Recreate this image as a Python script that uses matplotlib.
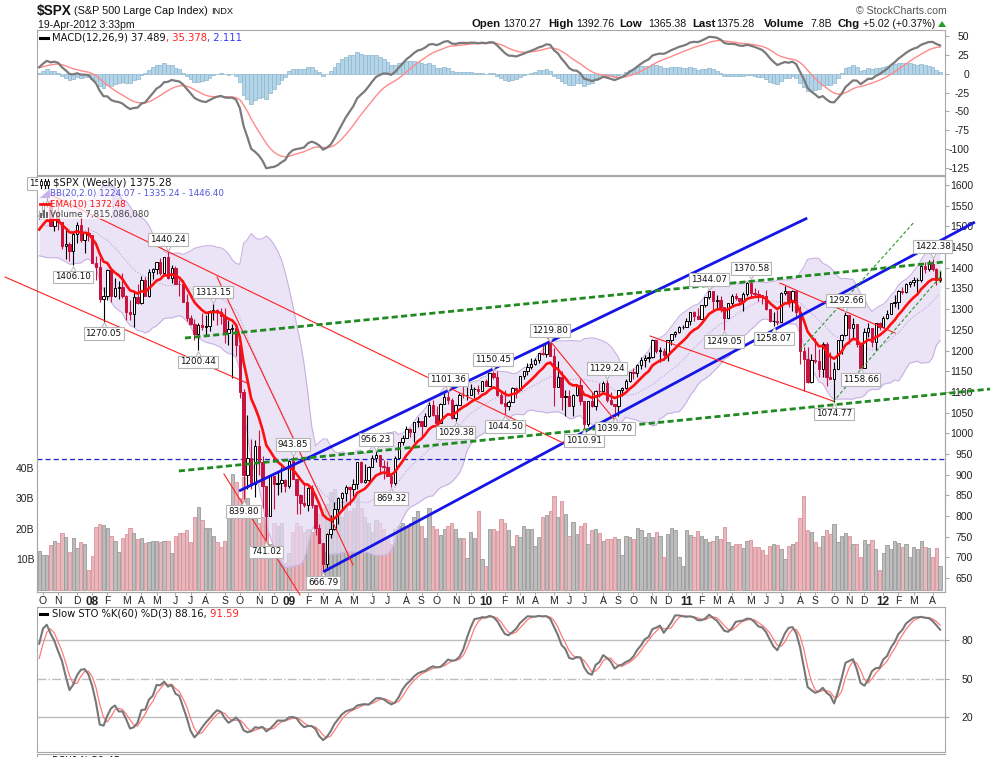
import numpy as np
import pandas as pd
import matplotlib
matplotlib.use("Agg")
import matplotlib.pyplot as plt
from matplotlib.patches import Rectangle, Polygon
from matplotlib.lines import Line2D
from matplotlib.transforms import Bbox, offset_copy

plt.rcParams['font.family'] = ['Liberation Sans', 'DejaVu Sans']

W, H = 994, 757

# ---- weekly $SPX data, weeks ending Friday, Jan 2007 .. 19-Apr-2012 ----
close_2007 = [1409.71, 1430.73, 1430.50, 1422.18, 1448.39, 1438.06, 1455.54, 1451.19, 1387.17, 1402.84,
              1386.95, 1436.11, 1420.86, 1443.76, 1452.85, 1484.35, 1494.07, 1505.62, 1505.85, 1522.75,
              1515.73, 1536.34, 1507.67, 1532.91, 1502.56, 1503.35, 1530.44, 1552.50, 1534.10, 1458.95,
              1433.06, 1453.64, 1445.94, 1479.37, 1473.99, 1453.55, 1484.25, 1525.75, 1526.75, 1557.59,
              1561.80, 1500.63, 1535.28, 1509.65, 1453.70, 1458.74, 1440.70, 1481.14, 1504.66, 1467.95,
              1484.46, 1478.49]
high_2007 = [1429.42, 1431.57, 1441.61, 1440.69, 1449.33, 1452.99, 1461.57, 1461.57, 1456.95, 1410.28,
             1410.15, 1437.77, 1438.11, 1444.88, 1453.11, 1484.74, 1498.02, 1510.34, 1513.80, 1522.75,
             1529.31, 1540.56, 1539.89, 1538.71, 1540.16, 1514.90, 1532.40, 1555.10, 1555.90, 1538.74,
             1488.30, 1503.89, 1456.77, 1479.40, 1481.47, 1481.16, 1485.34, 1529.39, 1538.74, 1561.91,
             1576.09, 1564.74, 1535.28, 1552.76, 1510.61, 1492.14, 1462.79, 1488.94, 1510.63, 1523.57,
             1485.40, 1498.85]
low_2007 = [1403.97, 1405.42, 1426.21, 1416.96, 1420.61, 1436.70, 1434.45, 1448.56, 1381.87, 1374.12,
            1363.98, 1386.95, 1407.18, 1416.37, 1435.07, 1451.00, 1478.61, 1486.64, 1491.05, 1498.17,
            1500.64, 1507.37, 1487.01, 1492.09, 1500.55, 1484.18, 1503.35, 1506.27, 1529.18, 1458.95,
            1430.09, 1429.41, 1370.60, 1430.53, 1432.01, 1449.62, 1439.29, 1471.26, 1517.00, 1521.38,
            1546.72, 1500.63, 1489.56, 1492.53, 1444.33, 1420.91, 1415.64, 1406.10, 1460.66, 1463.39,
            1435.65, 1466.00]

close_2008 = [1411.63, 1401.02, 1325.19, 1330.61, 1395.42, 1331.29, 1349.99, 1353.11, 1330.63, 1293.37,
              1288.14, 1329.51, 1315.22, 1370.40, 1332.83, 1390.33, 1397.84, 1413.90, 1388.28, 1425.35,
              1375.93, 1400.38, 1360.68, 1360.03, 1317.93, 1278.38, 1262.90, 1239.49, 1260.68, 1257.76,
              1260.31, 1296.32, 1298.20, 1292.20, 1282.83, 1242.31, 1251.70, 1255.08, 1213.27, 1099.23,
              899.22, 940.55, 876.77, 968.75, 930.99, 873.29, 800.03, 896.24, 876.07, 879.73,
              887.88, 872.80]
high_2008 = [1478.50, 1429.14, 1424.54, 1354.03, 1396.02, 1395.42, 1374.28, 1367.94, 1388.34, 1335.13,
             1321.68, 1341.51, 1359.68, 1380.91, 1378.10, 1395.90, 1399.10, 1415.00, 1422.72, 1425.88,
             1440.24, 1406.32, 1404.05, 1370.63, 1370.62, 1335.63, 1285.31, 1277.25, 1266.62, 1291.17,
             1284.74, 1297.85, 1313.15, 1300.68, 1303.04, 1303.04, 1274.42, 1265.12, 1255.09, 1213.27,
             1106.41, 1044.31, 985.44, 984.38, 1007.51, 943.91, 873.44, 896.25, 896.24, 905.00,
             918.85, 890.00]
low_2008 = [1411.19, 1370.10, 1318.31, 1270.05, 1322.26, 1316.75, 1329.40, 1324.34, 1326.51, 1272.66,
            1273.37, 1256.98, 1312.95, 1312.42, 1331.92, 1328.79, 1372.44, 1385.02, 1383.07, 1386.20,
            1373.07, 1364.42, 1359.70, 1332.46, 1317.93, 1272.00, 1260.68, 1225.35, 1200.44, 1248.63,
            1234.71, 1247.45, 1274.86, 1261.17, 1263.21, 1217.23, 1212.34, 1133.50, 1187.50, 1084.78,
            839.80, 865.83, 865.00, 845.27, 899.73, 818.69, 741.02, 800.00, 815.69, 851.35,
            857.72, 857.07]

close_2009 = [931.80, 890.35, 850.12, 831.95, 825.88, 868.60, 826.84, 770.05, 735.09, 683.38,
              756.55, 768.54, 815.94, 842.50, 856.56, 869.60, 866.23, 877.52, 929.23, 882.88,
              887.00, 919.14, 940.09, 946.21, 921.23, 918.90, 896.42, 879.13, 940.38, 979.26,
              987.48, 1010.48, 1004.09, 1026.13, 1028.93, 1016.40, 1042.73, 1068.30, 1044.38, 1025.21,
              1071.49, 1087.68, 1079.60, 1036.19, 1069.30, 1093.48, 1091.38, 1091.49, 1105.98, 1106.41,
              1102.47, 1126.48]
high_2009 = [934.73, 943.85, 890.35, 852.53, 877.86, 870.75, 875.01, 826.84, 780.12, 735.09,
             758.29, 803.04, 832.98, 845.61, 856.91, 875.63, 871.79, 888.70, 930.17, 933.77,
             924.60, 920.00, 947.77, 956.23, 946.21, 935.83, 931.92, 898.72, 943.96, 979.79,
             996.68, 1018.00, 1012.87, 1027.59, 1039.47, 1030.00, 1048.18, 1074.77, 1080.15, 1065.13,
             1073.64, 1096.56, 1101.36, 1085.00, 1071.00, 1097.89, 1113.69, 1112.38, 1119.13, 1110.72,
             1117.68, 1126.48]
low_2009 = [866.74, 888.31, 804.47, 803.97, 821.67, 812.29, 818.41, 754.25, 734.52, 666.79,
            672.88, 747.02, 765.00, 779.81, 814.53, 836.93, 826.83, 847.12, 866.10, 878.94,
            879.61, 881.46, 919.14, 930.02, 903.78, 888.86, 896.42, 869.32, 875.41, 940.38,
            972.00, 987.48, 990.20, 978.51, 1016.20, 991.97, 1016.40, 1038.40, 1041.17, 1019.95,
            1025.21, 1071.49, 1070.00, 1033.38, 1029.38, 1069.30, 1085.90, 1079.36, 1091.49, 1085.89,
            1095.41, 1102.47]

close_2010 = [1115.10, 1144.98, 1136.03, 1091.76, 1073.87, 1066.19, 1075.51, 1109.17, 1104.49, 1138.70,
              1149.99, 1159.90, 1166.59, 1178.10, 1194.37, 1192.13, 1217.28, 1186.69, 1110.88, 1135.68,
              1087.69, 1089.41, 1064.88, 1091.60, 1117.51, 1076.76, 1022.58, 1077.96, 1064.88, 1102.66,
              1101.60, 1121.64, 1079.25, 1071.69, 1064.59, 1104.51, 1109.55, 1125.59, 1148.67, 1146.24,
              1165.15, 1176.19, 1183.08, 1183.26, 1225.85, 1199.21, 1199.73, 1189.40, 1224.71, 1240.40,
              1243.91, 1256.77, 1257.64]
high_2010 = [1130.38, 1145.39, 1150.45, 1150.41, 1103.69, 1104.73, 1080.04, 1112.42, 1112.42, 1139.38,
             1150.24, 1169.20, 1180.69, 1181.43, 1194.66, 1213.92, 1217.28, 1219.80, 1205.13, 1173.57,
             1150.50, 1104.58, 1105.67, 1094.00, 1119.08, 1131.23, 1076.76, 1078.16, 1099.08, 1103.73,
             1120.95, 1127.30, 1129.24, 1100.14, 1071.69, 1105.10, 1110.88, 1131.47, 1148.90, 1157.16,
             1167.73, 1184.38, 1189.43, 1196.14, 1227.08, 1226.00, 1207.43, 1206.10, 1225.57, 1240.40,
             1246.73, 1259.33, 1262.60]
low_2010 = [1114.81, 1115.10, 1131.39, 1090.18, 1071.59, 1044.50, 1056.51, 1075.51, 1086.02, 1104.49,
            1131.30, 1141.45, 1156.45, 1165.03, 1169.19, 1188.16, 1183.68, 1185.53, 1065.79, 1110.88,
            1055.90, 1040.78, 1064.88, 1042.17, 1089.00, 1067.89, 1010.91, 1018.35, 1063.32, 1056.88,
            1088.01, 1101.60, 1076.61, 1069.29, 1039.70, 1040.88, 1091.15, 1107.88, 1122.79, 1131.87,
            1137.00, 1155.71, 1159.71, 1171.70, 1181.00, 1194.08, 1173.00, 1178.10, 1173.64, 1214.00,
            1232.85, 1242.00, 1251.48]

close_2011 = [1271.50, 1293.24, 1283.35, 1276.34, 1310.87, 1329.15, 1343.01, 1319.88, 1321.15, 1304.28,
              1279.20, 1313.80, 1332.41, 1328.17, 1319.68, 1337.38, 1363.61, 1340.20, 1337.77, 1333.27,
              1331.10, 1300.16, 1270.98, 1271.50, 1268.45, 1339.67, 1343.80, 1316.14, 1345.02, 1292.28,
              1199.38, 1178.81, 1123.53, 1176.80, 1173.97, 1154.23, 1216.01, 1136.43, 1131.42, 1155.46,
              1224.58, 1238.25, 1285.09, 1253.23, 1263.85, 1215.65, 1158.67, 1244.28, 1255.19, 1219.66,
              1265.33, 1257.60]
high_2011 = [1278.17, 1293.24, 1296.06, 1302.67, 1311.00, 1330.00, 1344.07, 1343.01, 1334.27, 1332.28,
             1304.28, 1315.15, 1337.85, 1339.46, 1328.17, 1341.37, 1364.56, 1370.58, 1351.64, 1345.50,
             1334.62, 1345.20, 1300.16, 1292.50, 1298.61, 1341.01, 1356.48, 1343.80, 1347.00, 1345.18,
             1307.38, 1208.47, 1208.47, 1190.68, 1230.71, 1204.40, 1220.06, 1220.39, 1195.86, 1171.40,
             1224.61, 1239.00, 1292.66, 1285.09, 1277.55, 1264.25, 1215.65, 1255.10, 1267.06, 1255.19,
             1265.42, 1269.37]
low_2011 = [1257.62, 1262.18, 1271.26, 1275.10, 1276.34, 1305.26, 1324.61, 1294.26, 1302.30, 1291.99,
            1249.05, 1279.20, 1304.89, 1322.94, 1309.00, 1294.70, 1331.72, 1329.17, 1330.00, 1318.51,
            1311.80, 1297.90, 1268.19, 1258.07, 1262.87, 1268.45, 1333.20, 1305.00, 1295.92, 1282.86,
            1168.09, 1101.54, 1122.05, 1121.09, 1170.00, 1136.00, 1136.22, 1114.22, 1131.07, 1074.77,
            1155.46, 1191.48, 1234.56, 1215.42, 1226.64, 1209.43, 1158.66, 1158.67, 1231.47, 1209.47,
            1202.37, 1248.64]

close_2012 = [1277.81, 1289.09, 1315.38, 1316.33, 1344.90, 1342.64, 1361.23, 1365.74, 1369.63, 1370.87,
              1404.17, 1397.11, 1408.47, 1398.08, 1370.26, 1375.28]
high_2012 = [1284.62, 1296.82, 1315.49, 1333.47, 1345.34, 1354.32, 1363.40, 1367.76, 1378.04, 1374.24,
             1405.88, 1414.00, 1419.15, 1422.38, 1399.76, 1392.76]
low_2012 = [1257.60, 1277.00, 1289.09, 1306.06, 1300.49, 1337.35, 1340.03, 1353.00, 1354.92, 1340.03,
            1365.70, 1388.00, 1391.56, 1393.00, 1357.38, 1365.38]

# weekly volume in billions, for the weeks shown (from 28-Sep-2007)
vol_2007 = [12.7, 11.6, 11.6, 14.6, 16.0, 15.3, 18.5, 17.2, 12.3, 17.0, 13.7, 15.7, 15.2, 6.4]
vol_2008 = [11.0, 20.5, 21.7, 21.4, 20.4, 17.8, 16.0, 12.3, 17.0, 18.2,
            20.4, 18.8, 16.6, 17.0, 15.3, 15.7, 16.2, 16.2, 15.7, 16.0,
            16.0, 12.0, 17.8, 18.8, 18.5, 19.7, 15.7, 24.0, 27.3, 23.0,
            20.4, 20.3, 17.8, 15.7, 14.0, 15.9, 23.8, 38.0, 35.5, 30.0,
            37.0, 30.0, 27.0, 26.0, 22.0, 24.0, 27.0, 15.0, 22.0, 21.0,
            22.0, 9.0]
vol_2009 = [12.0, 19.0, 22.0, 21.0, 19.0, 20.0, 19.0, 23.0, 25.0, 27.0,
            28.0, 32.0, 33.0, 28.0, 24.0, 29.0, 26.0, 27.0, 32.0, 27.0,
            24.0, 22.0, 19.0, 23.0, 22.0, 20.0, 17.0, 15.0, 20.0, 21.0,
            22.0, 21.0, 22.0, 24.0, 26.0, 21.0, 17.0, 27.0, 21.0, 20.0,
            18.0, 20.0, 21.0, 22.0, 20.0, 17.0, 17.0, 10.5, 19.0, 17.0,
            26.0, 10.0]
vol_2010 = [8.0, 20.0, 20.0, 19.2, 23.2, 22.0, 19.6, 14.3, 18.0, 17.2,
            20.8, 20.1, 19.9, 14.3, 17.5, 24.0, 24.7, 26.0, 30.9, 24.0,
            29.2, 25.0, 17.7, 22.4, 18.2, 20.8, 22.0, 15.2, 19.5, 19.9,
            18.5, 16.1, 16.8, 16.8, 17.5, 16.8, 11.6, 17.8, 17.2, 16.8,
            20.4, 19.7, 17.5, 18.7, 17.5, 19.0, 17.8, 10.7, 18.2, 20.4,
            19.6, 10.7, 7.8]
vol_2011 = [19.6, 18.0, 17.4, 19.2, 17.6, 16.6, 15.7, 16.0, 17.6, 16.6,
            20.6, 15.7, 14.3, 15.0, 15.2, 13.6, 16.0, 16.3, 14.0, 14.1,
            13.0, 11.6, 14.3, 15.2, 14.8, 13.3, 10.0, 14.3, 15.0, 15.7,
            23.7, 30.9, 19.5, 19.1, 15.7, 14.0, 17.8, 19.8, 18.2, 21.7,
            15.7, 17.8, 18.8, 17.6, 15.2, 15.2, 10.7, 16.3, 15.0, 16.3,
            13.3, 6.5]
vol_2012 = [12.0, 14.7, 13.3, 16.0, 15.3, 14.1, 14.9, 10.7, 14.0, 13.3, 16.1, 14.0, 13.6, 10.7, 13.6, 7.9]

# swing high / low price labels on the chart
swing_labels = [(1576.09, 'high'), (1406.10, 'low'), (1270.05, 'low'), (1440.24, 'high'),
                (1313.15, 'high'), (1200.44, 'low'), (839.80, 'low'), (943.85, 'high'),
                (741.02, 'low'), (666.79, 'low'), (956.23, 'high'), (869.32, 'low'),
                (1101.36, 'high'), (1029.38, 'low'), (1150.45, 'high'), (1044.50, 'low'),
                (1219.80, 'high'), (1010.91, 'low'), (1129.24, 'high'), (1039.70, 'low'),
                (1344.07, 'high'), (1249.05, 'low'), (1370.58, 'high'), (1258.07, 'low'),
                (1074.77, 'low'), (1292.66, 'high'), (1158.66, 'low'), (1422.38, 'high')]

# hand drawn trendlines: (week index, price) end points
blue_lines = [((52.8, 860.3), (202.9, 1520.2)), ((75.0, 664.5), (247.2, 1510.6))]
red_lines = [((-9.0, 1377.6), (54.9, 1121.4)), ((2.1, 1580.7), (138.4, 976.4)),
             ((47.0, 1377.6), (82.9, 681.5)), ((48.8, 901.4), (68.9, 608.9)),
             ((133.9, 1235.0), (152.7, 1024.7)), ((161.4, 1235.0), (209.7, 1077.9)),
             ((195.7, 1363.0), (226.1, 1242.3))]
green_lines = [((38.5, 1230.2), (238.8, 1413.9)), ((36.9, 908.7), (251.2, 1106.9))]
green_thin_lines = [((201.0, 1201.2), (230.9, 1508.1)), ((209.7, 1075.5), (238.0, 1377.6))]
hline_level = 937

month_letters = 'JFMAMJJASOND'

# ---------------- computations ----------------
close = np.array(close_2007 + close_2008 + close_2009 + close_2010 + close_2011 + close_2012)
high = np.array(high_2007 + high_2008 + high_2009 + high_2010 + high_2011 + high_2012)
low = np.array(low_2007 + low_2008 + low_2009 + low_2010 + low_2011 + low_2012)
vol = np.array(vol_2007 + vol_2008 + vol_2009 + vol_2010 + vol_2011 + vol_2012)
dates = pd.date_range(end='2012-04-20', periods=len(close), freq='W-FRI')
n = len(vol)
s0 = len(close) - n

s = pd.Series(close)
opens = np.r_[close[0], close[:-1]]
ema10 = s.ewm(span=10, adjust=False).mean().values
mid = s.rolling(20, min_periods=1).mean()
sd = s.rolling(20, min_periods=1).std(ddof=0)
bb_up, bb_mid, bb_lo = (mid + 2 * sd).values, mid.values, (mid - 2 * sd).values
macd = s.ewm(span=12, adjust=False).mean() - s.ewm(span=26, adjust=False).mean()
signal = macd.ewm(span=9, adjust=False).mean()
hist = macd - signal
hh = pd.Series(high).rolling(60, min_periods=1).max()
ll = pd.Series(low).rolling(60, min_periods=1).min()
fast_k = (s - ll) / (hh - ll) * 100
slow_k = fast_k.rolling(3, min_periods=1).mean()
slow_d = slow_k.rolling(3, min_periods=1).mean()

sl = slice(s0, None)
x = np.arange(n)
o, c, hi, lo = opens[sl], close[sl], high[sl], low[sl]
up = c >= o

# ---------------- figure ----------------
fig = plt.figure(figsize=(W / 100, H / 100), dpi=100)
fig.patch.set_facecolor('white')


def rect(top, bottom):
    return [37 / W, 1 - bottom / H, 908 / W, (bottom - top) / H]


def fx(px):
    return px / W


def fy(py):
    return 1 - py / H


GRID = '#a8a8a8'
XL = (-0.58, 239.3)

ax_macd = fig.add_axes(rect(30, 175))
ax_vol = fig.add_axes(rect(176, 592))
ax_p = ax_vol.twinx()
ax_sto = fig.add_axes(rect(607, 752))

for ax in (ax_macd, ax_vol, ax_p, ax_sto):
    ax.set_xlim(*XL)
    for sp in ax.spines.values():
        sp.set_color(GRID)
        sp.set_linewidth(0.8)


def right_ticks(ax, ticks, pad):
    ax.yaxis.tick_right()
    ax.set_yticks(ticks)
    ax.set_yticklabels([str(t) for t in ticks])
    ax.tick_params(axis='y', direction='out', length=3, width=0.8, color=GRID,
                   labelsize=7.5, labelcolor='#222222', pad=pad)
    for t in ax.get_yticklabels():
        t.set_horizontalalignment('right')


# ---- MACD panel ----
ax_macd.set_ylim(-134.3, 58)
ax_macd.bar(x, hist.values[sl], width=1.0, color='#b4d4e7', edgecolor='#8db5cf', linewidth=0.5, zorder=1)
ax_macd.plot(x, signal.values[sl], color='#ff8a8a', lw=1.0, zorder=2)
ax_macd.plot(x, macd.values[sl], color='#7a7a7a', lw=1.6, zorder=3)
ax_macd.set_xticks([])
right_ticks(ax_macd, list(range(-125, 51, 25)), 14.4)

# ---- volume (behind price) ----
ax_vol.set_ylim(-0.65, 135.5)
vcol = np.where(np.r_[True, c[1:] >= c[:-1]], '#bdbdbd', '#e9b8bc')
vedge = np.where(np.r_[True, c[1:] >= c[:-1]], '#9a9a9a', '#d9939b')
ax_vol.bar(x, vol, width=0.86, color=vcol, edgecolor=vedge, linewidth=0.6, zorder=1)
ax_vol.yaxis.tick_left()
ax_vol.set_yticks([10, 20, 30, 40])
ax_vol.set_yticklabels(['10B', '20B', '30B', '40B'])
ax_vol.tick_params(axis='y', length=0, labelsize=7.5, labelcolor='#222222', pad=2)

# month labels
mt, ml, mb = [], [], []
for i in range(1, n):
    d, p = dates[s0 + i], dates[s0 + i - 1]
    if d.month != p.month:
        mt.append(i)
        if d.month == 1:
            ml.append(d.strftime('%y'))
            mb.append(True)
        else:
            ml.append(month_letters[d.month - 1])
            mb.append(False)
ax_vol.set_xticks(mt)
ax_vol.set_xticklabels(ml)
ax_vol.tick_params(axis='x', direction='out', length=2, width=0.7, color=GRID,
                   labelsize=7.5, labelcolor='#222222', pad=1.2)
for t, b in zip(ax_vol.get_xticklabels(), mb):
    if b:
        t.set_fontweight('bold')
        t.set_fontsize(8.5)

# ---- price panel ----
ax_p.set_ylim(616, 1622)
right_ticks(ax_p, list(range(650, 1601, 50)), 17.2)

ax_p.fill_between(x, bb_lo[sl], bb_up[sl], color='#e4d9f3', alpha=0.72, lw=0, zorder=1)
ax_p.plot(x, bb_up[sl], color='#c7b2e3', lw=0.8, zorder=1.5)
ax_p.plot(x, bb_lo[sl], color='#c7b2e3', lw=0.8, zorder=1.5)
ax_p.plot(x, bb_mid[sl], color='#bba8de', lw=0.8, ls=(0, (1, 1.5)), zorder=1.5)

ax_p.axhline(hline_level, color='#1f1fcf', lw=0.9, ls=(0, (4, 2.5)), zorder=2)

# last bar highlight
ax_p.add_patch(Rectangle((n - 1.5, lo[-1] - 2), 1.0, hi[-1] - lo[-1] + 4,
                         facecolor='#bfeab6', edgecolor='none', zorder=2))

# candles
wick_lo = np.minimum(lo, np.minimum(o, c))
wick_hi = np.maximum(hi, np.maximum(o, c))
body_b = np.minimum(o, c)
body_h = np.maximum(np.abs(c - o), 1.2)
DOWN = '#c8133f'
ax_p.vlines(x[up], wick_lo[up], wick_hi[up], color='black', lw=0.8, zorder=3)
ax_p.vlines(x[~up], wick_lo[~up], wick_hi[~up], color=DOWN, lw=0.8, zorder=3)
ax_p.bar(x[up], body_h[up], bottom=body_b[up], width=0.62, facecolor='white',
         edgecolor='black', linewidth=0.7, zorder=3.5)
ax_p.bar(x[~up], body_h[~up], bottom=body_b[~up], width=0.62, facecolor=DOWN,
         edgecolor=DOWN, linewidth=0.7, zorder=3.5)

ax_p.plot(x, ema10[sl], color='#ff1010', lw=1.9, zorder=4)

# trendlines
for (a, b) in blue_lines:
    ax_p.plot([a[0], b[0]], [a[1], b[1]], color='#1515e6', lw=2.0, zorder=5, clip_on=False,
              solid_capstyle='butt')
for (a, b) in red_lines:
    ax_p.plot([a[0], b[0]], [a[1], b[1]], color='#ff2020', lw=0.8, zorder=5, clip_on=False)
for (a, b) in green_lines:
    ax_p.plot([a[0], b[0]], [a[1], b[1]], color='#1f8a1f', lw=2.0, ls=(0, (2.2, 1.2)),
              zorder=5, clip_on=False)
for (a, b) in green_thin_lines:
    ax_p.plot([a[0], b[0]], [a[1], b[1]], color='#2a9a2a', lw=0.8, ls=(0, (3, 2)),
              zorder=5, clip_on=False)

# swing labels with small pointer wedges
left_clip = Bbox([[0, 0], [37.5, H]])
for val, kind in swing_labels:
    arr = hi if kind == 'high' else lo
    i = int(np.argmin(np.abs(arr - val)))
    sign = 1 if kind == 'high' else -1
    ann = ax_p.annotate('%.2f' % val, (i, val), xytext=(0, 8.4 * sign), textcoords='offset points',
                        ha='center', va='center', fontsize=6.3, family='DejaVu Sans', color='#111111',
                        bbox=dict(boxstyle='square,pad=0.22', fc='white', ec='#b5b5b5', lw=0.8),
                        zorder=7, annotation_clip=False)
    wedge_tr = offset_copy(ax_p.transData, fig=fig, x=0, y=2.6 * sign, units='points')
    ax_p.plot([i], [val], marker='v' if sign > 0 else '^', ms=4.2, mfc='white', mec='#b5b5b5',
              mew=0.7, transform=wedge_tr, zorder=6.9, clip_on=False)
    if i < 5:
        # this one sits under the chart legend, only its left end shows
        ann.set_clip_on(True)
        ann.set_clip_box(left_clip)

# ---- stochastics panel ----
ax_sto.set_ylim(-7.2, 105.8)
ax_sto.axhline(80, color='#bdbdbd', lw=1.0, zorder=1)
ax_sto.axhline(20, color='#bdbdbd', lw=1.0, zorder=1)
ax_sto.axhline(50, color='#bdbdbd', lw=1.0, ls='-.', zorder=1)
ax_sto.plot(x, slow_d.values[sl], color='#ff7a7a', lw=0.9, zorder=2)
ax_sto.plot(x, slow_k.values[sl], color='#777777', lw=1.5, zorder=3)
ax_sto.set_xticks([])
right_ticks(ax_sto, [20, 50, 80], 17.2)

# ---------------- texts ----------------
renderer = fig.canvas.get_renderer()


def ftext(px, py, s, **kw):
    kw.setdefault('va', 'center')
    kw.setdefault('ha', 'left')
    return fig.text(fx(px), fy(py), s, **kw)


def seq_text(px, py, parts, **kw):
    for s, col, wt in parts:
        t = ftext(px, py, s, color=col, fontweight=wt, **kw)
        px += t.get_window_extent(renderer=renderer).width


# header
ftext(37, 11.5, '$SPX', fontsize=9.8, fontweight='bold', color='#111111')
ftext(74, 11.5, '(S&P 500 Large Cap Index)', fontsize=7.8, color='#111111')
ftext(211, 11.8, 'INDX', fontsize=6.7, color='#111111')
ftext(38, 25, '19-Apr-2012 3:33pm', fontsize=7.6, color='#111111')
ftext(856, 11.5, '\u00a9 StockCharts.com', fontsize=7.6, color='#555555')
hdr = [(471, 'Open', True), (503, '1370.27', False), (548, 'High', True), (576, '1392.76', False),
       (619, 'Low', True), (648, '1365.38', False), (692, 'Last', True), (716, '1375.28', False),
       (764, 'Volume', True), (810, '7.8B', False), (838, 'Chg', True), (863, '+5.02 (+0.37%)', False)]
for px, s, b in hdr:
    ftext(px, 24, s, fontsize=8.2 if b else 7.6, fontweight='bold' if b else 'normal', color='#111111')
fig.add_artist(Polygon([(fx(938), fy(27)), (fx(946), fy(27)), (fx(942), fy(21))],
                       closed=True, facecolor='#2a9a2a', edgecolor='none'))

# MACD legend
fig.add_artist(Line2D([fx(40), fx(48)], [fy(37.5), fy(37.5)], color='black', lw=2.2))
seq_text(52, 37.5, [('MACD(12,26,9) 37.489', '#111111', 'normal'),
                    (', 35.378', '#ff2020', 'normal'), (', 2.111', '#3a3aff', 'normal')],
         fontsize=7.2, family='DejaVu Sans')

# price legend (covers the top of the chart a little)
fig.add_artist(Rectangle((fx(38), fy(219)), fx(112) - fx(38), fy(188.5) - fy(219),
                         facecolor='white', edgecolor='none', alpha=0.7, zorder=2))
for xx in (41, 44.5, 48):
    fig.add_artist(Line2D([fx(xx), fx(xx)], [fy(178.5), fy(187.5)], color='black', lw=0.8, zorder=3))
    fig.add_artist(Rectangle((fx(xx - 1), fy(185)), fx(2) - fx(0), fy(181) - fy(185),
                             facecolor='white', edgecolor='black', lw=0.6, zorder=3))
ftext(53, 183, '$SPX (Weekly) 1375.28', fontsize=7.3, family='DejaVu Sans', color='#111111', zorder=4)
fig.add_artist(Polygon([(fx(40), fy(198)), (fx(50), fy(198)), (fx(50), fy(189))], closed=True,
                       facecolor='#c9b0ea', edgecolor='none', zorder=3))
ftext(50, 193.5, 'BB(20,2.0) 1224.07 - 1335.24 - 1446.40', fontsize=6.3, family='DejaVu Sans',
      color='#5555dd', zorder=4)
fig.add_artist(Line2D([fx(40), fx(49)], [fy(204), fy(204)], color='#ff1010', lw=2.0, zorder=3))
ftext(50, 204, 'EMA(10) 1372.48', fontsize=6.3, family='DejaVu Sans', color='#ff1010', zorder=4)
for xx, hh_ in ((41, 5), (44, 8), (47, 6)):
    fig.add_artist(Rectangle((fx(xx - 1), fy(218)), fx(2.2) - fx(0), fy(218 - hh_) - fy(218),
                             facecolor='#666666', edgecolor='none', zorder=3))
ftext(50, 214.5, 'Volume 7,815,086,080', fontsize=6.3, family='DejaVu Sans', color='#444444', zorder=4)

# STO legend
fig.add_artist(Line2D([fx(40), fx(47)], [fy(614), fy(614)], color='black', lw=2.2))
seq_text(52, 614, [('Slow STO %K(60) %D(3) 88.16,', '#111111', 'normal'),
                   (' 91.59', '#ff2020', 'normal')], fontsize=7.2, family='DejaVu Sans')

# next panel just cut off at the bottom
fig.add_artist(Line2D([fx(37), fx(945)], [fy(753.5), fy(753.5)], color=GRID, lw=0.8))
fig.add_artist(Line2D([fx(37), fx(37)], [fy(753.5), fy(757)], color=GRID, lw=0.8))
ftext(52, 760.5, 'RSI(14) 59.45', fontsize=7.2, family='DejaVu Sans', color='#111111')

fig.savefig('out.png', dpi=100)
